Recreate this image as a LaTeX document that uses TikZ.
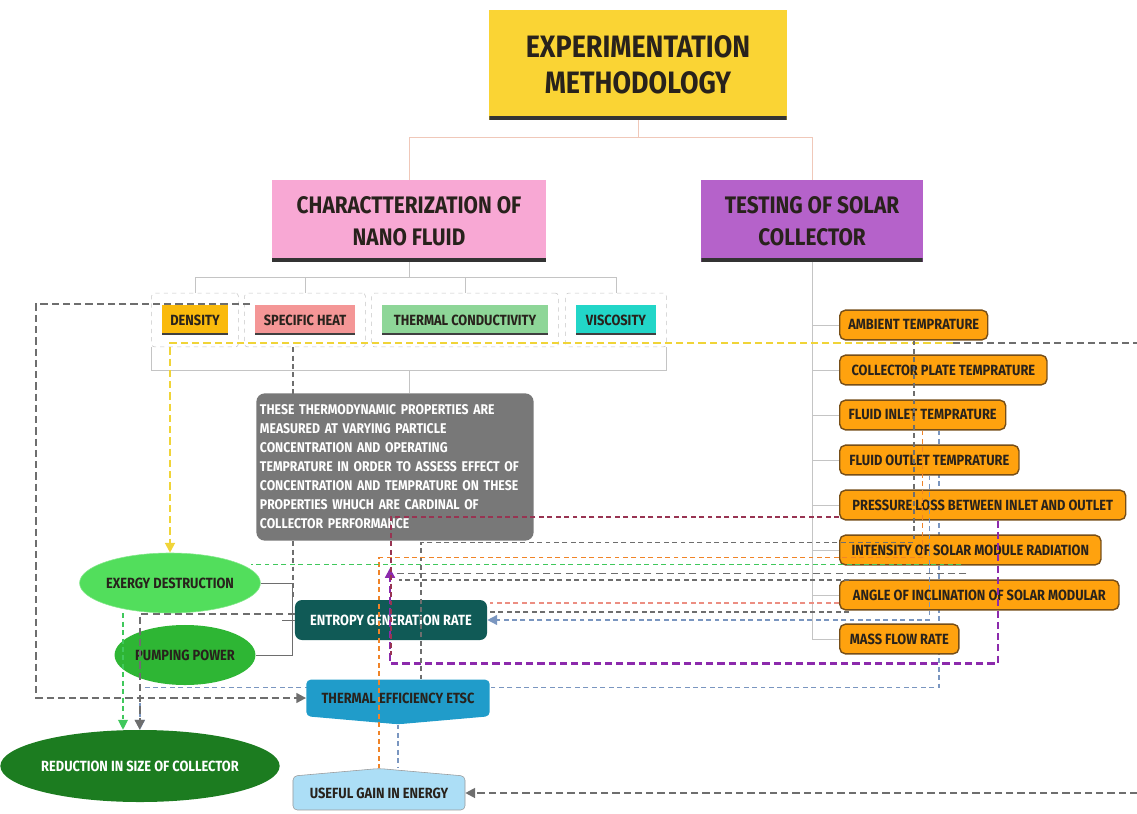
\documentclass[tikz,border=0pt]{standalone}
\usepackage{fontspec}
\setmainfont{Fira Sans}[FakeStretch=0.87]
\usetikzlibrary{shapes.geometric,shapes.symbols,fit,calc,arrows.meta,backgrounds}

\definecolor{titleyellow}{RGB}{250,212,52}
\definecolor{charpink}{RGB}{248,168,212}
\definecolor{testpurple}{RGB}{181,98,202}
\definecolor{densyellow}{RGB}{250,186,12}
\definecolor{heatred}{RGB}{244,150,150}
\definecolor{condgreen}{RGB}{142,214,152}
\definecolor{visccyan}{RGB}{34,214,200}
\definecolor{paramorange}{RGB}{255,162,14}
\definecolor{parambrown}{RGB}{118,78,24}
\definecolor{notegrey}{RGB}{120,120,120}
\definecolor{exergygreen}{RGB}{82,222,92}
\definecolor{pumpgreen}{RGB}{46,182,52}
\definecolor{sizegreen}{RGB}{28,124,32}
\definecolor{entteal}{RGB}{16,90,86}
\definecolor{effblue}{RGB}{32,156,202}
\definecolor{gainblue}{RGB}{172,222,246}
\definecolor{inktext}{RGB}{40,34,28}
\definecolor{lineGrey}{RGB}{110,110,110}
\definecolor{lineYellow}{RGB}{240,212,56}
\definecolor{linePurple}{RGB}{140,42,172}
\definecolor{lineMaroon}{RGB}{152,52,82}
\definecolor{lineRed}{RGB}{236,142,130}
\definecolor{lineGreen}{RGB}{64,200,92}
\definecolor{lineBlue}{RGB}{122,150,192}
\definecolor{lineOrange}{RGB}{240,132,40}
\definecolor{treePeach}{RGB}{240,200,185}
\definecolor{treeGrey}{RGB}{196,196,196}

\tikzset{
    top-box/.style = {rectangle, align=center, text=inktext, inner sep=0pt,
        path picture={\fill[black!80] ([yshift=2.5pt]path picture bounding box.south west) rectangle (path picture bounding box.south east);}},
    prop-box/.style = {rectangle, text=inktext, minimum height=0.75cm, inner sep=0pt,
        font=\bfseries\fontsize{10.5}{12}\selectfont,
        path picture={\fill[black!75] ([yshift=1.4pt]path picture bounding box.south west) rectangle (path picture bounding box.south east);}},
    prop-frame/.style = {draw=treeGrey, dashed, rounded corners=2pt, inner xsep=0.25cm, inner ysep=0.29cm},
    param-box/.style = {rectangle, rounded corners=4pt, fill=paramorange, draw=parambrown, line width=1pt,
        anchor=west, minimum height=0.74cm, text=inktext, font=\bfseries\fontsize{10.5}{12}\selectfont},
    note-box/.style = {rectangle, rounded corners=6pt, fill=notegrey, text=white, align=left,
        text width=6.75cm, inner xsep=0.09cm, minimum height=3.68cm,
        font=\bfseries\fontsize{10}{13.5}\selectfont},
    result-ellipse/.style = {ellipse, inner sep=0pt, text=inktext, font=\bfseries\fontsize{10.5}{12}\selectfont},
    flow-shape/.style = {signal, rounded corners=3pt, inner sep=0pt, signal pointer angle=170,
        text=inktext, font=\bfseries\fontsize{10.5}{12}\selectfont},
    tree-line/.style = {draw=treeGrey, line width=0.7pt},
    grey-dash/.style = {draw=lineGrey, line width=1.5pt, dash pattern=on 5pt off 3pt},
    thin-dash/.style = {line width=0.8pt, dash pattern=on 3.5pt off 2.5pt},
    arrow-end/.style = {-{Triangle[length=7pt,width=7pt]}},
}

\begin{document}
\begin{tikzpicture}[x=0.025cm, y=-0.025cm]
\useasboundingbox (0,0) rectangle (1137,814);

% top of the tree
\node[top-box, fill=titleyellow, minimum width=7.43cm, minimum height=2.75cm,
      font=\bfseries\fontsize{22}{26}\selectfont] (title) at (638,65) {EXPERIMENTATION\\METHODOLOGY};
\node[top-box, fill=charpink, minimum width=6.85cm, minimum height=2.05cm,
      font=\bfseries\fontsize{17}{23}\selectfont] (char) at (409,221) {CHARACTTERIZATION OF\\NANO FLUID};
\node[top-box, fill=testpurple, minimum width=5.53cm, minimum height=2.05cm,
      font=\bfseries\fontsize{17}{23}\selectfont] (test) at (812,221) {TESTING OF SOLAR\\COLLECTOR};
\draw[tree-line, draw=treePeach] (title.south) -- ++(0,17) -| (char.north);
\draw[tree-line, draw=treePeach] (title.south) -- ++(0,17) -| (test.north);

% nano fluid properties
\node[prop-box, fill=densyellow, minimum width=1.65cm] (dens) at (195,320) {DENSITY};
\node[prop-box, fill=heatred, minimum width=2.5cm] (spec) at (305,320) {SPECIFIC HEAT};
\node[prop-box, fill=condgreen, minimum width=4.15cm] (cond) at (465,320) {THERMAL CONDUCTIVITY};
\node[prop-box, fill=visccyan, minimum width=2cm] (visc) at (616,320) {VISCOSITY};
\node[prop-frame, fit=(dens)] (fdens) {};
\node[prop-frame, fit=(spec)] (fspec) {};
\node[prop-frame, fit=(cond)] (fcond) {};
\node[prop-frame, fit=(visc)] (fvisc) {};
\draw[tree-line] (char.south) -- ++(0,15) -| (fdens.north);
\draw[tree-line] (char.south) -- ++(0,15) -| (fspec.north);
\draw[tree-line] (char.south) -- ++(0,15) -| (fcond.north);
\draw[tree-line] (char.south) -- ++(0,15) -| (fvisc.north);
\draw[tree-line] (fdens.south west) -- ++(0,23) -| (fvisc.south east);

\node[note-box] (note) at (395,467) {THESE THERMODYNAMIC PROPERTIES ARE\\
MEASURED AT VARYING PARTICLE\\
CONCENTRATION AND OPERATING\\
TEMPRATURE IN ORDER TO ASSESS EFFECT OF\\
CONCENTRATION AND TEMPRATURE ON THESE\\
PROPERTIES WHUCH ARE CARDINAL OF\\
COLLECTOR PERFORMANCE};
\draw[tree-line] (char.south |- fdens.south) ++(0,23) -- (char.south |- note.north);

% collector test parameters
\node[param-box, minimum width=3.7cm] (amb) at (839,325) {AMBIENT TEMPRATURE};
\node[param-box, minimum width=5.18cm] (plate) at (839,370) {COLLECTOR PLATE TEMPRATURE};
\node[param-box, minimum width=4.15cm] (inlet) at (839,415) {FLUID INLET TEMPRATURE};
\node[param-box, minimum width=4.48cm] (outlet) at (839,460) {FLUID OUTLET TEMPRATURE};
\node[param-box, minimum width=7.15cm] (press) at (839,505) {PRESSURE LOSS BETWEEN INLET AND OUTLET};
\node[param-box, minimum width=6.53cm] (inten) at (839,550) {INTENSITY OF SOLAR MODULE RADIATION};
\node[param-box, minimum width=6.98cm] (angle) at (839,595) {ANGLE OF INCLINATION OF SOLAR MODULAR};
\node[param-box, minimum width=2.98cm] (mass) at (839,639) {MASS FLOW RATE};
\draw[tree-line] (test.south) -- (test.south |- mass.west) -- (mass.west);
\draw[tree-line] (test.south |- amb.west) -- (amb.west);
\draw[tree-line] (test.south |- plate.west) -- (plate.west);
\draw[tree-line] (test.south |- inlet.west) -- (inlet.west);
\draw[tree-line] (test.south |- outlet.west) -- (outlet.west);
\draw[tree-line] (test.south |- press.west) -- (press.west);
\draw[tree-line] (test.south |- inten.west) -- (inten.west);
\draw[tree-line] (test.south |- angle.west) -- (angle.west);

% results
\node[result-ellipse, fill=exergygreen, draw=exergygreen!70!white, minimum width=4cm, minimum height=1.5cm] (exer) at (170,583) {EXERGY DESTRUCTION};
\node[result-ellipse, fill=pumpgreen, minimum width=3.1cm, minimum height=1.5cm] (pump) at (185,655) {PUMPING POWER};
\node[result-ellipse, fill=sizegreen, text=white, minimum width=6.6cm, minimum height=1.8cm] (size) at (140,766) {REDUCTION IN SIZE OF COLLECTOR};
\node[rectangle, rounded corners=5pt, fill=entteal, text=white, minimum width=4.8cm, minimum height=1cm,
      font=\bfseries\fontsize{10.5}{12}\selectfont] (ent) at (391,620) {ENTROPY GENERATION RATE};
\node[flow-shape, fill=effblue, signal to=south, minimum width=4.58cm, minimum height=1.08cm] (eff) at (398,698) {THERMAL EFFICIENCY ETSC};
\node[flow-shape, fill=gainblue, draw=lineGrey!70, signal to=north, minimum width=4.3cm, minimum height=1cm] (gain) at (379,793) {USEFUL GAIN IN ENERGY};
\draw[tree-line, draw=lineGrey] (exer.east) -- ++(32,0) |- (pump.east);
\draw[tree-line, draw=lineGrey] (ent.west) -- ++(-13,0);

% dashed links
\coordinate (heatsrc) at (250,304);
\coordinate (ambtap) at (953,343);
\coordinate (rightedge1) at (1137,343);
\coordinate (rightedge2) at (1137,793);
\coordinate (purpend) at (390,568);
\draw[grey-dash, arrow-end] (heatsrc) -- ++(-214,0) |- (eff.west);
\draw[grey-dash, draw=lineYellow, arrow-end] (ambtap) -| (exer.north);
\draw[grey-dash] (ambtap) -- (rightedge1);
\draw[grey-dash, arrow-end] (rightedge2) -- (gain.east);
\begin{scope}[on background layer]
\draw[thin-dash, draw=lineGrey] ($(fspec.south)+(-12,0)$) coordinate (s1) -- (s1 |- ent.north);
\draw[thin-dash, draw=lineBlue, line width=1.1pt, arrow-end] ($(inlet.south)+(16,0)$) -- ++(0,257) -| (size.north);
\end{scope}
\draw[grey-dash, draw=linePurple, arrow-end] ($(press.south)+(15,0)$) -- ++(0,143) -| (purpend);
\draw[thin-dash, draw=lineMaroon] ($(press.west)+(0,12)$) -- ++(-448,0) -- ++(0,138);
\draw[thin-dash, draw=lineGrey, line width=1.1pt] (amb.south) -- ++(0,202) -| ($(eff.north)+(23,0)$);
\draw[thin-dash, draw=lineOrange] (inlet.south) -- ++(0,127) -| (gain.north);
\draw[thin-dash, draw=lineBlue, line width=1.1pt, arrow-end] (outlet.south) |- (ent.east);
\draw[thin-dash, draw=lineGreen, arrow-end] (exer.south) ++(-47,0) coordinate (g1) -- (g1 |- size.north);
\draw[grey-dash, arrow-end] ($(ent.west)+(0,-6)$) -- ++(-155,0) coordinate (e1) -- (e1 |- size.north);
\draw[thin-dash, draw=lineGreen] (inten.south) ++(-9,-1) -- ++(-710,0);
\draw[grey-dash, line width=1.2pt] (inten.south) ++(-4,8) -- ++(-570,0);
\draw[thin-dash, draw=lineGrey] (angle.west) ++(10,-15) -- ++(-450,0);
\draw[thin-dash, draw=lineRed] (angle.west) ++(0,8) -- ++(-349,0);
\draw[thin-dash, draw=lineGrey, line width=1.1pt] (angle.west) ++(10,17) -- ++(-359,0);
\draw[thin-dash, draw=lineBlue] (eff.south) -- (eff.south |- gain.north);
\end{tikzpicture}
\end{document}
